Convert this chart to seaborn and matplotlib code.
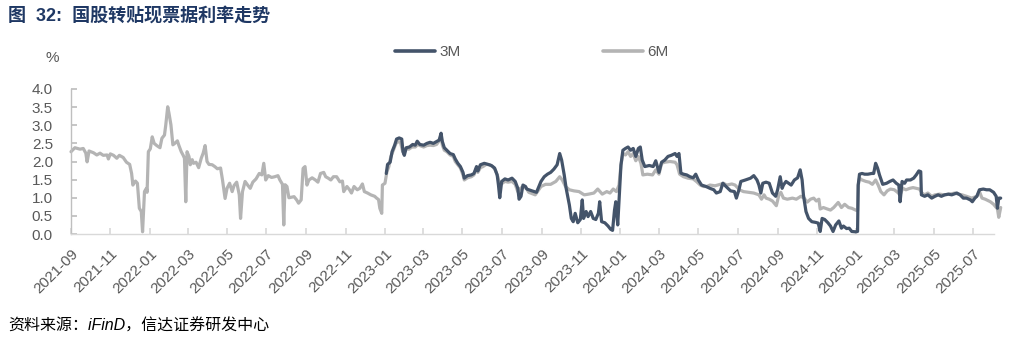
import matplotlib
matplotlib.use("Agg")
import matplotlib.pyplot as plt
import matplotlib.dates as mdates
import pandas as pd
import seaborn as sns

title_text = "图  32:  国股转贴现票据利率走势"
source_text = "资料来源：iFinD，信达证券研发中心"
unit_label = "%"
series_names = ["3M", "6M"]
y_ticks = [0.0, 0.5, 1.0, 1.5, 2.0, 2.5, 3.0, 3.5, 4.0]

dates_6m = [
    "2021-09-01", "2021-09-07", "2021-09-15", "2021-09-20", "2021-09-24", "2021-09-26", "2021-09-29",
    "2021-10-06", "2021-10-11", "2021-10-16", "2021-10-21", "2021-10-27", "2021-10-29",
    "2021-11-01", "2021-11-06", "2021-11-11", "2021-11-15", "2021-11-21", "2021-11-26",
    "2021-12-01", "2021-12-04", "2021-12-06", "2021-12-10", "2021-12-13", "2021-12-16", "2021-12-19",
    "2021-12-21", "2021-12-24", "2021-12-27", "2021-12-28", "2021-12-30",
    "2022-01-02", "2022-01-05", "2022-01-08", "2022-01-12", "2022-01-17", "2022-01-20", "2022-01-24",
    "2022-01-26", "2022-01-29", "2022-01-31", "2022-02-03", "2022-02-06", "2022-02-09", "2022-02-13",
    "2022-02-15", "2022-02-19", "2022-02-22", "2022-02-24", "2022-02-26", "2022-02-28",
    "2022-03-03", "2022-03-05", "2022-03-08", "2022-03-10", "2022-03-14", "2022-03-18", "2022-03-22",
    "2022-03-25", "2022-03-28", "2022-03-31", "2022-04-03", "2022-04-08", "2022-04-12", "2022-04-16",
    "2022-04-21", "2022-04-24", "2022-04-28",
    "2022-05-01", "2022-05-05", "2022-05-09", "2022-05-12", "2022-05-16", "2022-05-20", "2022-05-22",
    "2022-05-25", "2022-05-29", "2022-06-02", "2022-06-06", "2022-06-10", "2022-06-15", "2022-06-20",
    "2022-06-24", "2022-06-27", "2022-06-30",
    "2022-07-04", "2022-07-09", "2022-07-14", "2022-07-19", "2022-07-22", "2022-07-26", "2022-07-28",
    "2022-07-30", "2022-08-02", "2022-08-05", "2022-08-13", "2022-08-17", "2022-08-20", "2022-08-24",
    "2022-08-27", "2022-08-30",
    "2022-09-02", "2022-09-05", "2022-09-10", "2022-09-15", "2022-09-19", "2022-09-23", "2022-09-28",
    "2022-10-01", "2022-10-05", "2022-10-09", "2022-10-13", "2022-10-18", "2022-10-23", "2022-10-27",
    "2022-10-29",
    "2022-11-03", "2022-11-07", "2022-11-10", "2022-11-14", "2022-11-19", "2022-11-23", "2022-11-27",
    "2022-11-30", "2022-12-05", "2022-12-10", "2022-12-16", "2022-12-19", "2022-12-22", "2022-12-24",
    "2022-12-27", "2022-12-28",
    "2023-01-01", "2023-01-04", "2023-01-07", "2023-01-10", "2023-01-14", "2023-01-18", "2023-01-22",
    "2023-01-25", "2023-01-28", "2023-01-30", "2023-02-02", "2023-02-07", "2023-02-12", "2023-02-17",
    "2023-02-21", "2023-02-24",
    "2023-03-02", "2023-03-07", "2023-03-12", "2023-03-17", "2023-03-22", "2023-03-27", "2023-03-29",
    "2023-03-31", "2023-04-03", "2023-04-07", "2023-04-12", "2023-04-17", "2023-04-20", "2023-04-24",
    "2023-04-28",
    "2023-05-02", "2023-05-04", "2023-05-09", "2023-05-15", "2023-05-19", "2023-05-23", "2023-05-25",
    "2023-05-29", "2023-06-02", "2023-06-07", "2023-06-12", "2023-06-17", "2023-06-21", "2023-06-25",
    "2023-06-28",
    "2023-07-02", "2023-07-06", "2023-07-11", "2023-07-17", "2023-07-22", "2023-07-26", "2023-07-30",
    "2023-08-04", "2023-08-09", "2023-08-12", "2023-08-22", "2023-08-31",
    "2023-09-07", "2023-09-15", "2023-09-23", "2023-09-29", "2023-10-03", "2023-10-08", "2023-10-14",
    "2023-10-21", "2023-10-29",
    "2023-11-06", "2023-11-13", "2023-11-21", "2023-11-27", "2023-12-04", "2023-12-11", "2023-12-16",
    "2023-12-21", "2023-12-26", "2023-12-30",
    "2024-01-02", "2024-01-05", "2024-01-09", "2024-01-13", "2024-01-17", "2024-01-21", "2024-01-25",
    "2024-01-29", "2024-02-02", "2024-02-05", "2024-02-12", "2024-02-20", "2024-02-25",
    "2024-03-01", "2024-03-05", "2024-03-10", "2024-03-18", "2024-03-26", "2024-03-29", "2024-04-02",
    "2024-04-08", "2024-04-15", "2024-04-23", "2024-04-28",
    "2024-05-04", "2024-05-09", "2024-05-14", "2024-05-19", "2024-05-27", "2024-06-04", "2024-06-09",
    "2024-06-14", "2024-06-22", "2024-06-27",
    "2024-07-04", "2024-07-10", "2024-07-18", "2024-07-26", "2024-08-03", "2024-08-07", "2024-08-11",
    "2024-08-14", "2024-08-19", "2024-08-24", "2024-08-30",
    "2024-09-03", "2024-09-06", "2024-09-10", "2024-09-16", "2024-09-24", "2024-09-30", "2024-10-07",
    "2024-10-12", "2024-10-17", "2024-10-22", "2024-10-27", "2024-10-31",
    "2024-11-04", "2024-11-06", "2024-11-11", "2024-11-17", "2024-11-22", "2024-11-27", "2024-12-04",
    "2024-12-09", "2024-12-14", "2024-12-20", "2024-12-25", "2024-12-31",
    "2025-01-03", "2025-01-04", "2025-01-06", "2025-01-10", "2025-01-16", "2025-01-21", "2025-01-26",
    "2025-01-31", "2025-02-04", "2025-02-08", "2025-02-13", "2025-02-18", "2025-02-23",
    "2025-03-01", "2025-03-06", "2025-03-10", "2025-03-14", "2025-03-19", "2025-03-25", "2025-03-30",
    "2025-04-04", "2025-04-09", "2025-04-13", "2025-04-17", "2025-04-22", "2025-04-28",
    "2025-05-03", "2025-05-10", "2025-05-18", "2025-05-26", "2025-06-03", "2025-06-08", "2025-06-14",
    "2025-06-21", "2025-06-29",
    "2025-07-07", "2025-07-11", "2025-07-15", "2025-07-20", "2025-07-28", "2025-08-02", "2025-08-08",
    "2025-08-10", "2025-08-13",
]
rate_6m = [
    2.27, 2.38, 2.34, 2.36, 2.23, 1.99, 2.29,
    2.24, 2.18, 2.23, 2.17, 2.18, 2.07,
    2.21, 2.17, 2.09, 2.17, 2.11, 1.98,
    1.92, 1.67, 1.35, 1.46, 1.40, 0.71, 0.62,
    0.06, 1.17, 1.26, 1.15, 2.27,
    2.35, 2.68, 2.50, 2.44, 2.38, 2.64, 2.73,
    3.01, 3.51, 3.33, 3.01, 2.46, 2.50, 2.57,
    2.46, 2.27, 2.17, 2.09, 0.89, 2.27,
    2.14, 1.91, 2.05, 1.95, 1.98, 1.83, 2.09,
    2.23, 2.44, 2.00, 1.92, 1.91, 1.86, 1.80,
    1.82, 1.49, 0.98,
    1.26, 1.40, 1.17, 1.34, 1.43, 1.08, 0.43,
    1.17, 1.45, 1.35, 1.26, 1.43, 1.52, 1.67,
    1.63, 1.95, 1.49,
    1.61, 1.56, 1.58, 1.61, 1.49, 1.37, 0.25,
    1.36, 1.31, 1.00, 1.03, 0.94, 0.85, 0.94,
    1.81, 1.86,
    1.35, 1.49, 1.55, 1.49, 1.43, 1.67, 1.70,
    1.58, 1.54, 1.49, 1.58, 1.58, 1.44, 1.46,
    1.17,
    1.31, 1.22, 1.13, 1.31, 1.22, 1.26, 1.38,
    1.17, 1.13, 1.08, 1.04, 0.99, 0.95, 0.71,
    0.57, 1.35,
    1.40, 1.72, 1.86, 2.13, 2.31, 2.50, 2.55,
    2.53, 2.31, 2.22, 2.36, 2.34, 2.40, 2.40,
    2.47, 2.44,
    2.40, 2.44, 2.45, 2.44, 2.47, 2.59, 2.68,
    2.45, 2.31, 2.27, 2.18, 2.14, 2.00, 1.91,
    1.82,
    1.63, 1.49, 1.55, 1.58, 1.63, 1.82, 1.70,
    1.83, 1.86, 1.92, 1.91, 1.86, 1.77, 1.58,
    1.35,
    1.40, 1.45, 1.43, 1.45, 1.37, 1.17, 1.26,
    1.31, 1.24, 1.15, 1.08, 1.31,
    1.37, 1.37, 1.45, 1.58, 1.49, 1.31, 1.22,
    1.19, 1.17,
    1.08, 1.10, 1.13, 1.24, 1.10, 1.17, 1.13,
    1.24, 1.17, 1.35,
    1.90, 2.22, 2.18, 2.27, 2.14, 2.22, 2.02,
    2.14, 1.95, 1.63, 1.65, 1.63, 1.77,
    1.65, 1.95, 1.98, 2.00, 1.98, 1.91, 1.65,
    1.58, 1.54, 1.52, 1.45,
    1.35, 1.31, 1.31, 1.35, 1.33, 1.37, 1.40,
    1.35, 1.38, 1.35,
    1.22, 1.17, 1.15, 1.13, 1.08, 0.96, 1.08,
    0.99, 0.96, 0.91, 0.78,
    1.08, 1.15, 0.99, 0.96, 0.99, 0.96, 1.04,
    0.99, 0.88, 0.96, 0.99, 0.91,
    0.96, 0.69, 0.73, 0.69, 0.66, 0.73, 0.87,
    0.73, 0.82, 0.73, 0.71, 0.66,
    0.64, 1.35, 1.54, 1.49, 1.45, 1.43, 1.37,
    1.49, 1.35, 1.17, 1.08, 1.19, 1.24,
    1.22, 1.15, 1.08, 1.26, 1.22, 1.26, 1.28,
    1.26, 1.24, 1.13, 1.08, 1.13, 1.04,
    1.08, 1.10, 1.08, 1.10, 1.13, 1.10, 1.08,
    1.04, 0.99,
    1.04, 1.17, 0.99, 0.96, 0.89, 0.82, 0.69,
    0.46, 0.73,
]

dates_3m = [
    "2023-01-03", "2023-01-05", "2023-01-09", "2023-01-12", "2023-01-16", "2023-01-19", "2023-01-23",
    "2023-01-27", "2023-01-29", "2023-01-31", "2023-02-03", "2023-02-08", "2023-02-13", "2023-02-17",
    "2023-02-20", "2023-02-24",
    "2023-03-02", "2023-03-07", "2023-03-12", "2023-03-17", "2023-03-22", "2023-03-26", "2023-03-29",
    "2023-03-31", "2023-04-03", "2023-04-07", "2023-04-12", "2023-04-17", "2023-04-20", "2023-04-24",
    "2023-04-28",
    "2023-05-02", "2023-05-04", "2023-05-09", "2023-05-15", "2023-05-19", "2023-05-23", "2023-05-25",
    "2023-05-29", "2023-06-04", "2023-06-10", "2023-06-15", "2023-06-20", "2023-06-24", "2023-06-26",
    "2023-06-28",
    "2023-07-01", "2023-07-06", "2023-07-11", "2023-07-17", "2023-07-22", "2023-07-26", "2023-07-28",
    "2023-07-31", "2023-08-03", "2023-08-07", "2023-08-09", "2023-08-17", "2023-08-24", "2023-08-31",
    "2023-09-05", "2023-09-10", "2023-09-15", "2023-09-20", "2023-09-25", "2023-09-29", "2023-10-02",
    "2023-10-06", "2023-10-09", "2023-10-14", "2023-10-17", "2023-10-20", "2023-10-23", "2023-10-27",
    "2023-10-31",
    "2023-11-03", "2023-11-05", "2023-11-09", "2023-11-12", "2023-11-16", "2023-11-20", "2023-11-24",
    "2023-11-28", "2023-11-30", "2023-12-03", "2023-12-08", "2023-12-13", "2023-12-17", "2023-12-20",
    "2023-12-23", "2023-12-25", "2023-12-28", "2023-12-30",
    "2024-01-02", "2024-01-05", "2024-01-09", "2024-01-13", "2024-01-17", "2024-01-21", "2024-01-25",
    "2024-01-29", "2024-02-01", "2024-02-04", "2024-02-08", "2024-02-15", "2024-02-21", "2024-02-25",
    "2024-03-01", "2024-03-05", "2024-03-10", "2024-03-15", "2024-03-20", "2024-03-26", "2024-03-29",
    "2024-04-01", "2024-04-04", "2024-04-08", "2024-04-13", "2024-04-18", "2024-04-23", "2024-04-27",
    "2024-05-01", "2024-05-06", "2024-05-13", "2024-05-19", "2024-05-25", "2024-05-29", "2024-06-04",
    "2024-06-08", "2024-06-13", "2024-06-20", "2024-06-26", "2024-06-29",
    "2024-07-03", "2024-07-06", "2024-07-13", "2024-07-21", "2024-07-26", "2024-07-31", "2024-08-03",
    "2024-08-06", "2024-08-09", "2024-08-14", "2024-08-19", "2024-08-24", "2024-08-29",
    "2024-09-01", "2024-09-05", "2024-09-08", "2024-09-10", "2024-09-14", "2024-09-18", "2024-09-22",
    "2024-09-27", "2024-10-02", "2024-10-06", "2024-10-09", "2024-10-11", "2024-10-15", "2024-10-19",
    "2024-10-24", "2024-10-30",
    "2024-11-03", "2024-11-06", "2024-11-09", "2024-11-13", "2024-11-18", "2024-11-22", "2024-11-26",
    "2024-11-30", "2024-12-05", "2024-12-09", "2024-12-12", "2024-12-17", "2024-12-21", "2024-12-25",
    "2024-12-31",
    "2025-01-03", "2025-01-04", "2025-01-06", "2025-01-10", "2025-01-14", "2025-01-19", "2025-01-25",
    "2025-01-28", "2025-01-31", "2025-02-03", "2025-02-06", "2025-02-11", "2025-02-17", "2025-02-22",
    "2025-02-27",
    "2025-03-04", "2025-03-08", "2025-03-10", "2025-03-13", "2025-03-17", "2025-03-20", "2025-03-26",
    "2025-03-31", "2025-04-04", "2025-04-08", "2025-04-11", "2025-04-12", "2025-04-17", "2025-04-22",
    "2025-04-28",
    "2025-05-03", "2025-05-08", "2025-05-13", "2025-05-18", "2025-05-24", "2025-05-29", "2025-06-06",
    "2025-06-11", "2025-06-16", "2025-06-21", "2025-06-27", "2025-06-30",
    "2025-07-04", "2025-07-07", "2025-07-11", "2025-07-17", "2025-07-22", "2025-07-27", "2025-08-02",
    "2025-08-06", "2025-08-08", "2025-08-10", "2025-08-13",
]
rate_3m = [
    1.67, 1.92, 1.98, 2.27, 2.45, 2.62, 2.65,
    2.62, 2.27, 2.17, 2.38, 2.40, 2.47, 2.45,
    2.56, 2.47,
    2.45, 2.50, 2.53, 2.50, 2.55, 2.59, 2.78,
    2.55, 2.38, 2.31, 2.22, 2.19, 2.07, 1.95,
    1.86,
    1.70, 1.54, 1.61, 1.63, 1.67, 1.86, 1.74,
    1.91, 1.95, 1.92, 1.89, 1.82, 1.63, 1.35,
    1.00,
    1.45, 1.52, 1.49, 1.54, 1.45, 1.26, 0.96,
    1.04, 1.35, 1.31, 1.24, 1.19, 1.15, 1.45,
    1.58, 1.65, 1.70, 1.79, 1.91, 2.22, 2.04,
    1.63, 1.26, 0.80, 0.43, 0.34, 0.57, 0.31,
    0.40,
    0.94, 0.43, 0.62, 0.48, 0.62, 0.43, 0.40,
    0.57, 0.89, 0.34, 0.31, 0.22, 0.13, 0.10,
    0.66, 0.89, 0.25, 0.89,
    1.90, 2.31, 2.36, 2.40, 2.31, 2.36, 2.14,
    2.36, 2.40, 2.04, 1.86, 1.89, 1.86, 2.02,
    1.70, 1.98, 2.04, 2.14, 2.17, 2.22, 2.14,
    2.22, 1.68, 1.65, 1.63, 1.58, 1.55, 1.65,
    1.49, 1.35, 1.31, 1.26, 1.22, 1.13, 1.17,
    1.40, 1.31, 1.19, 1.17, 0.99,
    1.22, 1.45, 1.49, 1.54, 1.61, 1.49, 1.35,
    1.13, 1.40, 1.43, 1.40, 1.13, 1.04,
    1.22, 1.58, 1.26, 1.35, 1.45, 1.40, 1.35,
    1.49, 1.55, 1.77, 1.49, 1.08, 0.62, 0.43,
    0.34, 0.32,
    0.30, 0.07, 0.43, 0.40, 0.31, 0.22, 0.07,
    0.25, 0.36, 0.16, 0.22, 0.15, 0.16, 0.07,
    0.06,
    0.07, 1.35, 1.65, 1.67, 1.65, 1.65, 1.67,
    1.67, 1.95, 1.82, 1.63, 1.37, 1.40, 1.45,
    1.49,
    1.40, 1.35, 0.89, 1.45, 1.40, 1.49, 1.49,
    1.54, 1.63, 1.74, 1.72, 1.08, 1.04, 1.08,
    0.99,
    1.04, 1.08, 1.04, 1.08, 1.10, 1.08, 1.13,
    1.08, 0.99, 0.99, 0.94, 0.89,
    0.99, 1.04, 1.22, 1.24, 1.22, 1.22, 1.15,
    1.04, 0.71, 0.99, 0.99,
]

df = pd.concat([
    pd.DataFrame({"date": pd.to_datetime(dates_3m), "rate": rate_3m, "series": series_names[0]}),
    pd.DataFrame({"date": pd.to_datetime(dates_6m), "rate": rate_6m, "series": series_names[1]}),
], ignore_index=True)

sns.set_theme(style="white")
plt.rcParams["font.family"] = ["Liberation Sans", "Noto Sans CJK SC", "DejaVu Sans"]

colors = {"3M": "#44546A", "6M": "#B4B4B4"}
W, H = 1031, 339
fig = plt.figure(figsize=(W / 100, H / 100), dpi=100)
ax = fig.add_axes([71 / W, (H - 234) / H, (993.6 - 71) / W, 145 / H])

for name in ["6M", "3M"]:
    sub = df[df["series"] == name]
    sns.lineplot(data=sub, x="date", y="rate", ax=ax, color=colors[name],
                 linewidth=2.3, legend=False, clip_on=False,
                 zorder=3 if name == "3M" else 2)

ax.set_xlim(pd.Timestamp("2021-09-01"), pd.Timestamp("2025-08-02"))
ax.set_ylim(0, 4)
ax.set_yticks(y_ticks)
ax.yaxis.set_major_formatter(matplotlib.ticker.FormatStrFormatter("%.1f"))
ax.xaxis.set_major_locator(mdates.MonthLocator(bymonth=[1, 3, 5, 7, 9, 11]))
ax.xaxis.set_major_formatter(mdates.DateFormatter("%Y-%m"))
ax.set_xlabel("")
ax.set_ylabel("")

for s in ["top", "right"]:
    ax.spines[s].set_visible(False)
ax.spines["left"].set_color("#BFBFBF")
ax.spines["bottom"].set_color("#D9D9D9")
ax.spines["left"].set_linewidth(1.0)
ax.spines["bottom"].set_linewidth(1.0)
ax.tick_params(axis="y", direction="in", length=4, color="#BFBFBF", labelsize=11,
               labelcolor="#595959", pad=13, left=True)
ax.tick_params(axis="x", direction="in", length=4, color="#D9D9D9", labelsize=11,
               labelcolor="#595959", pad=9, bottom=True)
for lab in ax.get_xticklabels():
    lab.set_rotation(45)
    lab.set_ha("right")
    lab.set_rotation_mode("anchor")

fig.text(46 / W, 1 - 58 / H, unit_label, fontsize=11, color="#595959", va="center", ha="left")

handles = [matplotlib.lines.Line2D([], [], color=colors[n], linewidth=2.6) for n in series_names]
fig.legend(handles, series_names, loc="center", bbox_to_anchor=(532 / W, 1 - 52 / H), ncol=2,
           frameon=False, fontsize=11, handlelength=2.6, handletextpad=0.3, columnspacing=9.3,
           labelcolor="#595959")

fig.text(8 / W, 1 - 16 / H, title_text, fontsize=13, fontweight="bold", color="#1F3864",
         va="center", ha="left", family=["Liberation Sans", "Noto Sans CJK SC"])
fig.text(8 / W, 1 - 326 / H, source_text, fontsize=11.5, color="#000000", va="center", ha="left",
         style="italic", family=["Liberation Sans", "Noto Sans CJK SC"])

fig.savefig("out.png", dpi=100)
